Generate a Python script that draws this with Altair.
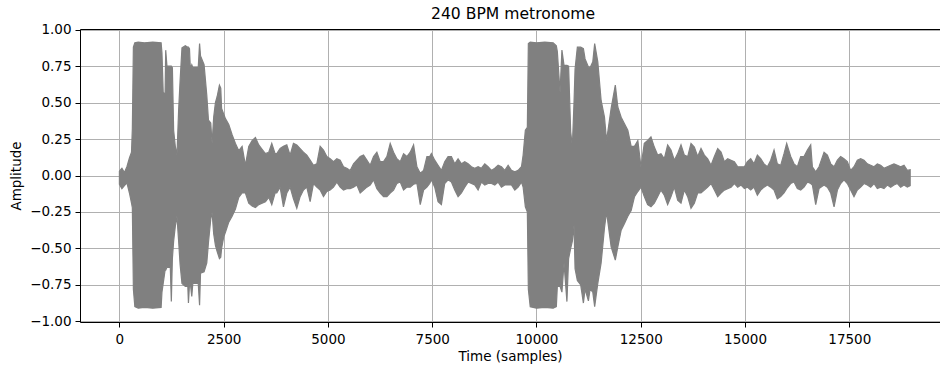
import altair as alt
import pandas as pd

# Waveform envelope: sample index, upper and lower amplitude
sample_pos = [
    0, 60, 120, 180, 240, 290, 310, 335, 370, 450, 600, 800, 1000, 1020, 1050, 1095,
    1110, 1140, 1220, 1245, 1270, 1300, 1340, 1380, 1420, 1455, 1500, 1580, 1640, 1655,
    1680, 1700, 1735, 1760, 1890, 1922, 1945, 2030, 2095, 2135, 2190, 2222, 2260, 2302,
    2342, 2398, 2430, 2450, 2502, 2542, 2622, 2702, 2782, 2862, 2942, 3021, 3101, 3181,
    3261, 3341, 3421, 3501, 3581,
    3653, 3733, 3773, 3853, 3933, 4013, 4093, 4173, 4253, 4333, 4413, 4493, 4573, 4653,
    4733, 4813, 4893, 4973, 5053, 5133, 5213, 5293, 5373, 5453, 5533, 5613, 5693, 5773,
    5853, 5933, 6013, 6093, 6173, 6253, 6333, 6413, 6493, 6573, 6653, 6733, 6813, 6893,
    6973, 7053, 7133, 7213, 7293, 7373,
    7440, 7480, 7560, 7640, 7720, 7800, 7880, 7960, 8040, 8120, 8200, 8280, 8360, 8440,
    8520, 8600, 8680, 8760, 8840, 8920, 9000, 9080, 9160, 9240, 9320, 9400, 9480, 9560,
    9640, 9680, 9733, 9781, 9805, 9850, 10000, 10200, 10400, 10476, 10500, 10565, 10610,
    10660, 10730, 10770, 10820, 10860, 10900, 10925, 10980, 11060, 11125, 11165, 11245,
    11285, 11350, 11395, 11470, 11550, 11630, 11680, 11790, 11890, 11950, 12030, 12110,
    12190, 12270, 12350, 12430, 12505, 12585, 12665, 12745, 12825, 12905, 12985, 13065,
    13145, 13225, 13305, 13385, 13465, 13545, 13625, 13705, 13785, 13865, 13945, 14025,
    14105, 14185, 14265, 14345, 14425, 14505, 14585, 14665, 14745, 14825, 14905, 14985,
    15056, 15136, 15216, 15296, 15376, 15456, 15536, 15616, 15696, 15775, 15855, 15935,
    15999, 16095, 16175, 16255, 16335, 16415, 16495, 16575, 16615, 16695, 16775, 16895,
    16975, 17055, 17135, 17215, 17293, 17373, 17453, 17533, 17613, 17693, 17773, 17853,
    17933, 18013, 18093, 18172, 18252, 18332, 18412, 18492, 18572, 18652, 18732, 18812,
    18892, 18960,
]
upper = [
    0.03, 0.05, 0.02, 0.06, 0.12, 0.16, 0.32, 0.88, 0.91, 0.915, 0.91, 0.915, 0.91, 0.84, 0.57, 0.56,
    0.86, 0.75, 0.75, 0.75, 0.74, 0.31, 0.20, 0.14, 0.45, 0.65, 0.875, 0.89, 0.88, 0.88,
    0.87, 0.735, 0.76, 0.74, 0.74, 0.905, 0.82, 0.76, 0.55, 0.38, 0.36, 0.22, 0.40, 0.50,
    0.54, 0.62, 0.60, 0.46, 0.42, 0.39, 0.35, 0.28, 0.22, 0.17, 0.20, 0.07, 0.20, 0.24,
    0.26, 0.21, 0.18, 0.15, 0.16,
    0.22, 0.15, 0.15, 0.185, 0.20, 0.21, 0.14, 0.22, 0.21, 0.185, 0.16, 0.14, 0.105, 0.07,
    0.08, 0.20, 0.175, 0.13, 0.115, 0.095, 0.115, 0.105, 0.06, 0.05, 0.035, 0.08, 0.105, 0.13,
    0.14, 0.105, 0.07, 0.13, 0.16, 0.095, 0.095, 0.13, 0.22, 0.16, 0.115, 0.095, 0.15, 0.13,
    0.16, 0.21, 0.06, 0.015, 0.035, 0.13,
    0.13, 0.15, 0.105, 0.07, 0.035, 0.095, 0.13, 0.13, 0.08, 0.115, 0.08, 0.095, 0.08, 0.06,
    0.05, 0.06, 0.05, 0.08, 0.06, 0.035, 0.05, 0.07, 0.06, 0.035, 0.07, 0.035, 0.025, 0.035,
    0.06, 0.14, 0.31, 0.33, 0.905, 0.915, 0.91, 0.915, 0.91, 0.89, 0.85, 0.57, 0.86,
    0.755, 0.755, 0.75, 0.30, 0.20, 0.50, 0.73, 0.88, 0.88, 0.87, 0.80, 0.745,
    0.74, 0.78, 0.905, 0.78, 0.515, 0.40, 0.24, 0.46, 0.62, 0.47, 0.40, 0.355,
    0.31, 0.20, 0.20, 0.24, 0.06, 0.22, 0.24, 0.265, 0.195, 0.14, 0.15, 0.115,
    0.21, 0.175, 0.105, 0.15, 0.21, 0.14, 0.13, 0.22, 0.195, 0.13, 0.185, 0.14,
    0.115, 0.07, 0.13, 0.185, 0.16, 0.095, 0.115, 0.105, 0.095, 0.06, 0.06, 0.06,
    0.095, 0.115, 0.08, 0.14, 0.115, 0.08, 0.06, 0.105, 0.175, 0.08, 0.07, 0.15,
    0.22, 0.13, 0.08, 0.06, 0.13, 0.13, 0.175, 0.21, 0.06, 0.025, 0.06, 0.16,
    0.14, 0.08, 0.06, 0.105, 0.13, 0.115, 0.095, 0.035, 0.06, 0.105, 0.115, 0.105,
    0.08, 0.07, 0.06, 0.08, 0.07, 0.05, 0.06, 0.07, 0.08, 0.07, 0.06, 0.07,
    0.035, 0.04,
]
lower = [
    -0.06, -0.09, -0.07, -0.05, -0.12, -0.19, -0.22, -0.78, -0.90, -0.91, -0.905, -0.91, -0.905, -0.80, -0.74, -0.65,
    -0.65, -0.63, -0.63, -0.865, -0.57, -0.45, -0.35, -0.28, -0.45, -0.61, -0.74, -0.76, -0.76, -0.875,
    -0.75, -0.74, -0.83, -0.74, -0.74, -0.89, -0.67, -0.66, -0.60, -0.46, -0.30, -0.25, -0.40, -0.48,
    -0.52, -0.57, -0.56, -0.50, -0.42, -0.39, -0.32, -0.28, -0.23, -0.15, -0.12, -0.12, -0.19, -0.21,
    -0.22, -0.20, -0.19, -0.18, -0.15,
    -0.20, -0.12, -0.12, -0.08, -0.215, -0.12, -0.08, -0.16, -0.225, -0.145, -0.10, -0.08, -0.18, -0.055,
    -0.08, -0.10, -0.145, -0.11, -0.10, -0.08, -0.045, -0.08, -0.10, -0.09, -0.09, -0.08, -0.065, -0.12,
    -0.10, -0.08, -0.065, -0.03, -0.09, -0.12, -0.145, -0.145, -0.12, -0.10, -0.055, -0.045, -0.10, -0.08,
    -0.08, -0.06, -0.055, -0.20, -0.10, -0.08,
    -0.055, -0.03, -0.08, -0.18, -0.20, -0.055, -0.03, -0.045, -0.10, -0.145, -0.12, -0.08, -0.045, -0.055,
    -0.065, -0.10, -0.045, -0.065, -0.055, -0.055, -0.065, -0.045, -0.08, -0.065, -0.065, -0.065, -0.10, -0.08,
    -0.045, -0.08, -0.215, -0.25, -0.78, -0.90, -0.91, -0.905, -0.91, -0.90, -0.76, -0.76, -0.80,
    -0.60, -0.865, -0.57, -0.50, -0.45, -0.34, -0.64, -0.72, -0.75, -0.875, -0.78, -0.86,
    -0.78, -0.80, -0.90, -0.74, -0.60, -0.36, -0.25, -0.49, -0.58, -0.49, -0.375, -0.33,
    -0.28, -0.24, -0.145, -0.11, -0.08, -0.145, -0.20, -0.215, -0.19, -0.145, -0.10, -0.135,
    -0.20, -0.145, -0.08, -0.17, -0.19, -0.10, -0.145, -0.225, -0.19, -0.12, -0.12, -0.10,
    -0.08, -0.055, -0.10, -0.145, -0.12, -0.10, -0.09, -0.08, -0.055, -0.08, -0.065, -0.09,
    -0.08, -0.10, -0.08, -0.135, -0.10, -0.08, -0.065, -0.08, -0.10, -0.16, -0.145, -0.12,
    -0.09, -0.055, -0.045, -0.09, -0.10, -0.08, -0.045, -0.055, -0.065, -0.20, -0.09, -0.065,
    -0.08, -0.12, -0.215, -0.10, -0.055, -0.03, -0.055, -0.10, -0.145, -0.10, -0.08, -0.055,
    -0.065, -0.08, -0.055, -0.09, -0.08, -0.09, -0.065, -0.08, -0.065, -0.055, -0.08, -0.065,
    -0.08, -0.07,
]

x_ticks = [0, 2500, 5000, 7500, 10000, 12500, 15000, 17500]
y_ticks = [-1.0, -0.75, -0.5, -0.25, 0.0, 0.25, 0.5, 0.75, 1.0]

df = pd.DataFrame({"sample": sample_pos, "upper": upper, "lower": lower})

FONT = "DejaVu Sans"
x_scale = alt.Scale(domain=[-945, 19675], nice=False, zero=False)
y_scale = alt.Scale(domain=[-1.005, 1.005], nice=False, zero=False)

wave = alt.Chart(df).mark_area(
    color="#808080", stroke="#808080", strokeWidth=1.2, interpolate="linear", opacity=1
).encode(
    x=alt.X("sample:Q", scale=x_scale,
            axis=alt.Axis(values=x_ticks, format="d", title="Time (samples)",
                          grid=True, labelPadding=5, titlePadding=4)),
    y=alt.Y("upper:Q", scale=y_scale,
            axis=alt.Axis(values=y_ticks, format=".2f", title="Amplitude",
                          grid=True, labelPadding=4, titlePadding=6)),
    y2="lower:Q",
)

top_spine = alt.Chart(df).mark_point(opacity=0).encode(
    x=alt.X("sample:Q", scale=x_scale,
            axis=alt.Axis(orient="top", labels=False, ticks=False, grid=False,
                          title=None, domain=True)),
)

chart = alt.layer(wave, top_spine).resolve_axis(x="independent").properties(
    width=860,
    height=293,
    padding={"left": 80, "top": 29, "right": 0, "bottom": 45},
    autosize=alt.AutoSizeParams(type="none"),
    title=alt.TitleParams(
        "240 BPM metronome", font=FONT, fontSize=15.6, fontWeight="normal",
        color="black", anchor="middle", offset=0, dx=3,
    ),
).configure_view(stroke=None).configure_axis(
    labelFont=FONT, labelFontSize=13.5, labelColor="black",
    titleFont=FONT, titleFontSize=13.5, titleFontWeight="normal", titleColor="black",
    tickColor="black", tickSize=5, tickWidth=1,
    domainColor="black", domainWidth=1,
    gridColor="#b0b0b0", gridWidth=1, gridOpacity=1,
)

chart.save("out.html", embed_options={"renderer": "svg", "actions": False})
